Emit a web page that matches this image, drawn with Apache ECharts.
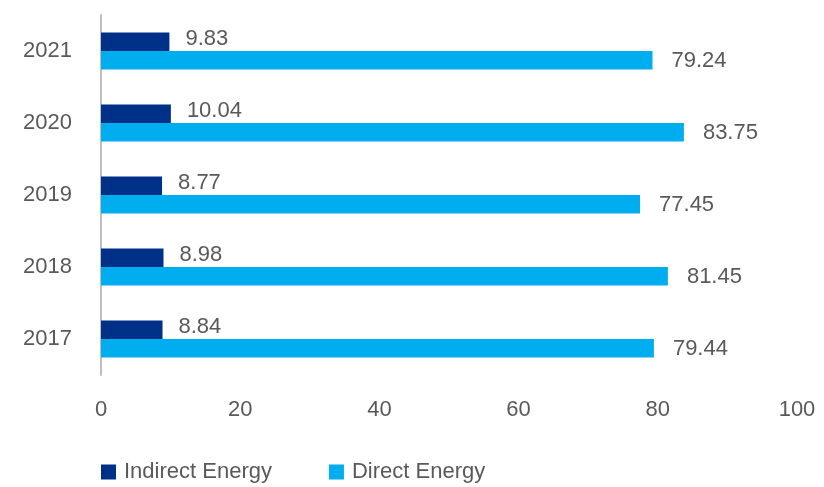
<!DOCTYPE html>
<html>
<head>
<meta charset="utf-8">
<script src="https://cdn.jsdelivr.net/npm/echarts@6/dist/echarts.min.js"></script>
<style>
  html, body { margin: 0; padding: 0; background: #ffffff; }
  #chart { width: 824px; height: 487px; }
</style>
</head>
<body>
<div id="chart"></div>
<script>
// Energy consumption by year, split into indirect and direct energy
const years = ['2017', '2018', '2019', '2020', '2021'];
const indirectEnergy = [8.84, 8.98, 8.77, 10.04, 9.83];
const directEnergy = [79.44, 81.45, 77.45, 83.75, 79.24];
const seriesNames = ['Indirect Energy', 'Direct Energy'];
const valueTicks = { min: 0, max: 100, interval: 20 };

const FONT = '"Liberation Sans", Arial, Helvetica, sans-serif';
const TEXT = '#595959';
const SIZE = 22;

const chart = echarts.init(document.getElementById('chart'), null, { renderer: 'canvas' });

chart.setOption({
  animation: false,
  backgroundColor: '#ffffff',
  textStyle: { fontFamily: FONT },
  grid: { left: 101, right: 27, top: 15, bottom: 112, containLabel: false },
  legend: {
    data: seriesNames,
    left: 101,
    top: 461,
    padding: 0,
    itemWidth: 15,
    itemHeight: 15,
    itemGap: 57,
    icon: 'rect',
    textStyle: { color: TEXT, fontSize: SIZE, fontFamily: FONT, lineHeight: 22, padding: [0, 0, 0, 3] }
  },
  xAxis: {
    type: 'value',
    min: valueTicks.min,
    max: valueTicks.max,
    interval: valueTicks.interval,
    axisLine: { show: false },
    axisTick: { show: false },
    splitLine: { show: false },
    axisLabel: { color: TEXT, fontSize: SIZE, fontFamily: FONT, margin: 24 }
  },
  yAxis: {
    type: 'category',
    data: years,
    axisLine: { show: true, lineStyle: { color: '#bfbfbf', width: 2 } },
    axisTick: { show: false },
    axisLabel: { color: TEXT, fontSize: SIZE, fontFamily: FONT, margin: 29 }
  },
  series: [
    {
      name: seriesNames[0],
      type: 'bar',
      data: indirectEnergy,
      barWidth: 18.5,
      barGap: '0%',
      itemStyle: { color: '#003189' },
      label: {
        show: true,
        position: 'right',
        distance: 16,
        offset: [0, -3],
        color: TEXT,
        fontSize: SIZE,
        fontFamily: FONT,
        formatter: p => p.value.toFixed(2)
      }
    },
    {
      name: seriesNames[1],
      type: 'bar',
      data: directEnergy,
      barWidth: 18.5,
      barGap: '0%',
      itemStyle: { color: '#00adef' },
      label: {
        show: true,
        position: 'right',
        distance: 19,
        offset: [0, 1],
        color: TEXT,
        fontSize: SIZE,
        fontFamily: FONT,
        formatter: p => p.value.toFixed(2)
      }
    }
  ]
});
</script>
</body>
</html>
